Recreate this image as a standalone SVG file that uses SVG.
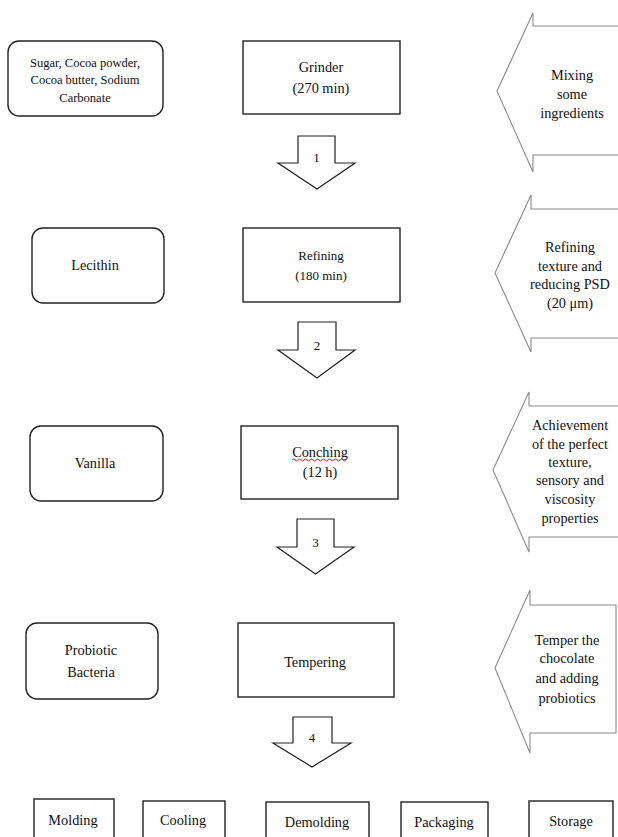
<svg xmlns="http://www.w3.org/2000/svg" width="618" height="837" viewBox="0 0 618 837">
<style>
.box{fill:#fff;stroke:#222;stroke-width:1.4}
.big{fill:#fff;stroke:#8a8a8a;stroke-width:1.1}
.down{fill:#fff;stroke:#222;stroke-width:1.2}
text{font-family:'Liberation Serif','Times New Roman','DejaVu Serif',serif;font-size:14.3px;fill:#111;text-anchor:middle}
.s{font-size:12.5px}
.m{font-size:13px}
</style>
<rect width="618" height="837" fill="#fff"/>
<g id="connectors">
<path id="arrow1" class="down" d="M298,136 H335 V163 H355 L317,189 L278,163 H298 Z"/>
<text x="316.5" y="161.5" class="m">1</text>
<path id="arrow2" class="down" d="M298,322 H336 V350 H355 L317,378 L278,350 H298 Z"/>
<text x="317" y="349.5" class="m">2</text>
<path id="arrow3" class="down" d="M297,519 H334 V547 H354 L315.5,574 L277,547 H297 Z"/>
<text x="315.5" y="546.5" class="m">3</text>
<path id="arrow4" class="down" d="M293,717 H332 V743 H351 L312,767 L273,743 H293 Z"/>
<text x="312" y="741.5" class="m">4</text>
</g>
<g id="n-ingredients">
<rect class="box" x="8" y="41" width="155" height="75" rx="11"/>
<text class="s" x="85" y="66.5">Sugar, Cocoa powder,</text>
<text class="s" x="85" y="84">Cocoa butter, Sodium</text>
<text class="s" x="85" y="101.5">Carbonate</text>
</g>
<g id="n-grinder">
<rect class="box" x="243" y="41" width="157" height="73"/>
<text x="321" y="72">Grinder</text>
<text x="321" y="93">(270 min)</text>
</g>
<g id="n-mixing">
<path class="big" d="M630,26 H533 V13 L497,91 L533,172 V155 H630"/>
<text x="572" y="79.5">Mixing</text>
<text x="572" y="98.5">some</text>
<text x="572" y="117.5">ingredients</text>
</g>
<g id="n-lecithin">
<rect class="box" x="32" y="228" width="132" height="75" rx="11"/>
<text x="95" y="270">Lecithin</text>
</g>
<g id="n-refining">
<rect class="box" x="243" y="228" width="157" height="74"/>
<text class="m" x="321" y="260">Refining</text>
<text class="m" x="321" y="280">(180 min)</text>
</g>
<g id="n-refining-note">
<path class="big" d="M630,209 H531 V195 L495,273 L531,352 V338 H630"/>
<text x="570" y="251.5">Refining</text>
<text x="570" y="270.5">texture and</text>
<text x="570" y="288.5">reducing PSD</text>
<text x="570" y="307.5">(20 μm)</text>
</g>
<g id="n-vanilla">
<rect class="box" x="30" y="426" width="133" height="75" rx="11"/>
<text x="95" y="468">Vanilla</text>
</g>
<g id="n-conching">
<rect class="box" x="241" y="426" width="157" height="73"/>
<text x="320" y="457">Conching</text>
<path d="M292,460 q1.5,-2 3,0 t3,0 t3,0 t3,0 t3,0 t3,0 t3,0 t3,0 t3,0 t3,0 t3,0 t3,0 t3,0 t3,0 t3,0 t3,0 t3,0 t3,0" fill="none" stroke="#d22" stroke-width="1"/>
<text x="320" y="477">(12 h)</text>
</g>
<g id="n-conching-note">
<path class="big" d="M630,406 H529 V392 L493,470 L529,552 V537 H630"/>
<text x="570" y="429.5">Achievement</text>
<text x="570" y="448.5">of the perfect</text>
<text x="570" y="466.5">texture,</text>
<text x="570" y="484.5">sensory and</text>
<text x="570" y="503.5">viscosity</text>
<text x="570" y="522.5">properties</text>
</g>
<g id="n-probiotic">
<rect class="box" x="26" y="623" width="132" height="76" rx="11"/>
<text x="91" y="655">Probiotic</text>
<text x="91" y="677">Bacteria</text>
</g>
<g id="n-tempering">
<rect class="box" x="238" y="623" width="156" height="74"/>
<text x="315" y="667">Tempering</text>
</g>
<g id="n-tempering-note">
<path class="big" d="M616,605 H530 V590 L495,668 L530,753 V733 H616 Z"/>
<text x="567" y="644.5">Temper the</text>
<text x="567" y="662.5">chocolate</text>
<text x="567" y="682.5">and adding</text>
<text x="567" y="702.5">probiotics</text>
</g>
<g id="n-molding">
<rect class="box" x="34" y="799" width="80" height="60"/>
<text x="73" y="825">Molding</text>
</g>
<g id="n-cooling">
<rect class="box" x="143" y="801" width="82" height="60"/>
<text x="183" y="825">Cooling</text>
</g>
<g id="n-demolding">
<rect class="box" x="266" y="802" width="103" height="60"/>
<text x="317" y="827">Demolding</text>
</g>
<g id="n-packaging">
<rect class="box" x="401" y="802" width="87" height="60"/>
<text x="444" y="827">Packaging</text>
</g>
<g id="n-storage">
<rect class="box" x="529" y="801" width="84" height="60"/>
<text x="571" y="826">Storage</text>
</g>
</svg>
